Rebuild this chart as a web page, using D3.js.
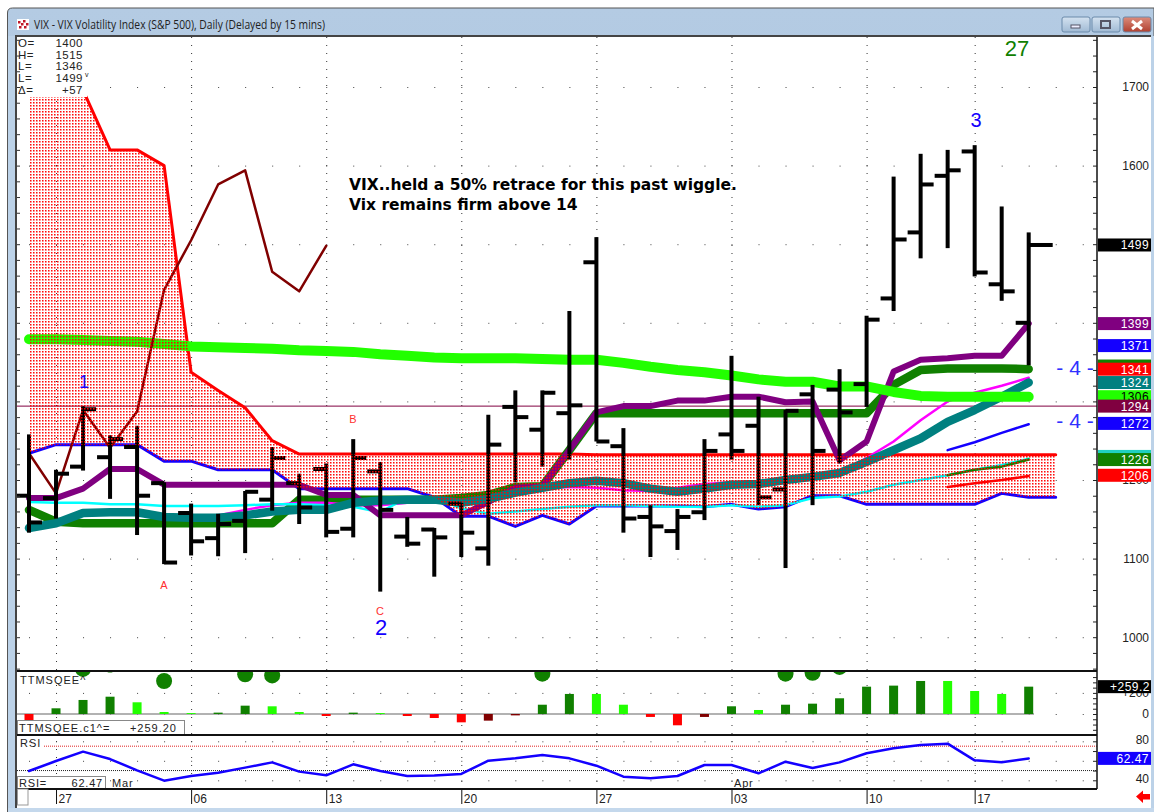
<!DOCTYPE html>
<html><head><meta charset="utf-8">
<script src="https://cdn.jsdelivr.net/npm/d3@7"></script>
<style>html,body{margin:0;padding:0;background:#fff;overflow:hidden}svg{display:block}text{font-family:"Liberation Sans",Arial,sans-serif}</style>
</head><body><svg id="c" width="1154" height="812"></svg>
<script>
const opens=[1180,1177,1217,1229,1242,1196,1158,1126,1148,1175,1196,1214,1138,1211,1128,1137,1170,1113,1293,1264,1285,1477,1243,1153,1135,1159,1258,1269,1188,1309,1315,1322,1431,1515,1587,1618,1449,1400];
const highs=[1258,1213,1294,1257,1269,1197,1170,1157,1186,1242,1208,1221,1252,1223,1153,1139,1171,1283,1314,1314,1415,1509,1266,1168,1163,1252,1358,1306,1289,1321,1341,1409,1586,1615,1620,1626,1548,1515];
const lows=[1133,1151,1212,1176,1130,1093,1104,1103,1107,1161,1144,1127,1127,1058,1115,1077,1102,1091,1197,1217,1226,1249,1133,1102,1111,1149,1226,1168,1088,1168,1221,1293,1415,1482,1495,1459,1428,1346];
const closes=[1146,1208,1290,1252,1180,1095,1122,1144,1185,1228,1165,1134,1228,1162,1119,1127,1133,1245,1280,1311,1295,1249,1151,1141,1153,1237,1237,1178,1288,1237,1286,1404,1506,1576,1594,1464,1440,1499];
const cloudTop=[1696,1696,1696,1620,1620,1600,1337,1314,1292,1250,1233,1233,1233,1233,1233,1233,1233,1233,1233,1233,1233,1232,1232,1232,1232,1232,1232,1232,1232,1232,1232,1232,1232,1232,1232,1232,1232,1232,1232];
const cloudBottom=[1234,1245,1245,1245,1245,1224,1224,1213,1213,1213,1189,1189,1189,1189,1189,1178,1154,1154,1141,1155,1144,1167,1167,1167,1167,1166,1169,1163,1166,1180,1180,1169,1169,1169,1169,1169,1183,1178,1178];
const purpleLine=[1177,1177,1189,1214,1214,1194,1194,1194,1194,1194,1194,1181,1181,1155,1155,1155,1155,1172,1190,1192,1238,1286,1294,1294,1301,1301,1306,1306,1299,1300,1225,1249,1338,1353,1355,1358,1358,1399];
const greenLine=[1162,1147,1145,1145,1145,1145,1145,1145,1145,1145,1175,1175,1175,1175,1175,1175,1177,1181,1191,1192,1238,1285,1285,1285,1285,1285,1285,1285,1285,1285,1285,1285,1321,1340,1342,1342,1342,1341];
const tealLine=[1139,1145,1158,1159,1159,1153,1152,1152,1155,1160,1162,1162,1171,1174,1175,1175,1171,1176,1184,1190,1196,1199,1196,1189,1185,1189,1194,1195,1200,1204,1209,1223,1238,1253,1274,1289,1306,1324];
const limeLine=[1379,1379,1378,1377,1376,1373,1370,1369,1368,1367,1365,1364,1363,1360,1358,1356,1355,1355,1355,1354,1353,1353,1349,1344,1340,1337,1333,1328,1325,1325,1319,1319,1312,1307,1306,1306,1306,1306];
const cyanLine=[1172,1171,1171,1169,1169,1167,1167,1167,1168,1169,1169,1168,1166,1159,1178,1178,1164,1157,1160,1163,1166,1168,1168,1167,1166,1166,1168,1166,1168,1177,1179,1185,1194,1200,1206,1213,1219,1227];
const magentaLine=[null,null,null,null,null,null,1153,1155,1162,1168,1171,1171,1168,1168,1171,1173,1168,1177,1187,1190,1191,1190,1187,1186,1190,1195,1197,1198,1197,1203,1210,1228,1249,1276,1300,1311,1320,1330];
const lagLine=[1234,1183,1289,1241,1287,1442,1505,1576,1594,1465,1440,1498];
const shortIdx=[34,35,36,37];
const shortBlue=[1238,1248,1260,1271];
const shortGreen=[1206,1213,1217,1226];
const shortRed=[1191,1196,1200,1205];
const priceTicks=[1000,1100,1200,1300,1400,1500,1600,1700];
const badgeValues=[1499,1399,1371,1345,1341,1324,1306,1294,1272,1230,1226,1206];
const badgeLabels=["1499","1399","1371","","1341","1324","1306","1294","1272","","1226","1206"];
const badgeColors=["#000000","#800080","#1400ff","#108000","#ff0000","#008080","#22ff00","#800040","#1400ff","#20d0c0","#108000","#ff0000"];
const ttmValues=[-57,54,133,164,111,19,9,13,79,73,19,-19,13,9,-19,-38,-79,-63,-13,88,190,190,88,-28,-107,-28,73,38,88,98,149,259,269,313,313,218,190,259.2];
const ttmColors=["r","d","d","d","b","b","b","d","d","b","b","r","d","b","r","r","r","m","m","d","d","b","b","r","r","m","d","b","d","d","d","d","d","d","b","b","b","d"];
const squeezeIdx=[2,3,5,8,9,19,28,29,30];
const squeezeVals=[427,469,313,376,366,382,382,391,446];
const rsiValues=[49.5,59.8,69.4,61.8,50.2,39.6,44.4,47.8,53,58.4,48.9,45.1,56.4,49.5,44.4,44.8,46.5,60.1,62.5,65.9,62.5,55,43.7,42,44.4,55.7,55.7,47.2,59.1,52.6,58.4,67.7,72.8,76.2,77.6,60.5,58.4,62.47];
const dateIdx=[1,6,11,16,21,26,31,35];
const dateLabels=["27","06","13","20","27","03","10","17"];
const readout=[["O=","1400"],["H=","1515"],["L=","1346"],["L=","1499"],["Δ=","+57"]];

const svg=d3.select("#c");
const x=d3.scaleLinear().domain([0,37]).range([29,1028.7]);
const y=d3.scaleLinear().domain([1000,1700]).range([637.2,87]);
const yT=d3.scaleLinear().domain([0,200]).range([714,692.9]);
const yR=d3.scaleLinear().domain([40,80]).range([780.3,741.3]);
const idx=d3.range(0,40);
const L=17,R=1097;

// window chrome
const defs=svg.append("defs");
const g1=defs.append("linearGradient").attr("id","tb").attr("x1",0).attr("x2",0).attr("y1",0).attr("y2",1);
g1.append("stop").attr("offset",0).attr("stop-color","#b4cbe3");g1.append("stop").attr("offset",1).attr("stop-color","#9fbad6");
const gc=defs.append("linearGradient").attr("id","cl").attr("x1",0).attr("x2",0).attr("y1",0).attr("y2",1);
gc.append("stop").attr("offset",0).attr("stop-color","#dc8c7c");gc.append("stop").attr("offset",1).attr("stop-color","#b04030");
const gb=defs.append("linearGradient").attr("id","bt").attr("x1",0).attr("x2",0).attr("y1",0).attr("y2",1);
gb.append("stop").attr("offset",0).attr("stop-color","#d4e2f0");gb.append("stop").attr("offset",1).attr("stop-color","#a0bad4");
const pat=defs.append("pattern").attr("id","hatch").attr("patternUnits","userSpaceOnUse").attr("width",3).attr("height",3);
pat.append("rect").attr("width",1).attr("height",1).attr("fill","#ff0000").attr("fill-opacity",.95);
pat.append("rect").attr("x",1).attr("width",1).attr("height",1).attr("fill","#ff0000").attr("fill-opacity",.5);
pat.append("rect").attr("y",1).attr("width",1).attr("height",1).attr("fill","#ff0000").attr("fill-opacity",.5);
pat.append("rect").attr("x",1).attr("y",1).attr("width",1).attr("height",1).attr("fill","#ff0000").attr("fill-opacity",.3);
[["m",17,37,R-17,634],["t",17,672,R-17,63],["s",17,736,R-17,53]].forEach(c=>defs.append("clipPath").attr("id","clip"+c[0]).append("rect").attr("x",c[1]).attr("y",c[2]).attr("width",c[3]).attr("height",c[4]));

svg.append("path").attr("d","M7.5,812V13q0,-5 5,-5H1154V812Z").attr("fill","url(#tb)").attr("stroke","#555").attr("stroke-width",1);
svg.append("rect").attr("x",8).attr("y",36).attr("width",1146).attr("height",776).attr("fill","#bcd2e8");
svg.append("rect").attr("x",15).attr("y",35).attr("width",1136).attr("height",773).attr("fill","#fff");
svg.append("rect").attr("x",15).attr("y",35).attr("width",1136).attr("height",2).attr("fill","#444");
svg.append("rect").attr("x",15).attr("y",36).attr("width",2).attr("height",772).attr("fill","#444");
svg.append("rect").attr("x",8).attr("y",808).attr("width",1146).attr("height",4).attr("fill","#c4d8ec");
svg.append("rect").attr("x",17).attr("y",19).attr("width",12).attr("height",11).attr("fill","#fff");
[[18,21],[23,20],[26,23],[19,26],[24,26],[21,23]].forEach(d=>svg.append("rect").attr("x",d[0]).attr("y",d[1]).attr("width",2.5).attr("height",2.5).attr("fill","#c01828"));
svg.append("text").attr("x",34).attr("y",29).attr("font-size",12).attr("fill","#222").style("font-family","'Open Sans'").attr("textLength",291).attr("lengthAdjust","spacingAndGlyphs").text("VIX - VIX Volatility Index (S&P 500), Daily (Delayed by 15 mins)");
[[1062,"url(#bt)"],[1092,"url(#bt)"],[1123,"url(#cl)"]].forEach(b=>svg.append("rect").attr("x",b[0]).attr("y",17).attr("width",28).attr("height",15).attr("rx",2).attr("fill",b[1]).attr("stroke","#6a8aaa"));
svg.append("rect").attr("x",1071).attr("y",25).attr("width",9).attr("height",3).attr("fill","#eef").attr("stroke","#556");
svg.append("rect").attr("x",1101).attr("y",21).attr("width",9).attr("height",7).attr("fill","none").attr("stroke","#556").attr("stroke-width",2);
svg.append("path").attr("d","M1132,21L1142,29M1142,21L1132,29").attr("stroke","#fff").attr("stroke-width",3);

// grid
const grid=svg.append("g");
grid.selectAll("line.v").data(dateIdx).join("line").attr("x1",d=>x(d)+.5).attr("x2",d=>x(d)+.5).attr("y1",37).attr("y2",789).attr("stroke","#333").attr("stroke-dasharray","1,7");
function dots(vals,sc){vals.forEach(v=>grid.selectAll(null).data(idx).join("rect").attr("x",d=>x(d)).attr("y",sc(v)).attr("width",1).attr("height",1).attr("fill","#444"));}
dots(priceTicks,y);dots([0,200],yT);dots([40,60,80],yR);

// main panel
const main=svg.append("g").attr("clip-path","url(#clipm)");
const line=v=>d3.line().defined(d=>d!=null).x((d,i)=>x(i)).y(d=>y(d))(v);
const shortL=v=>d3.line().x((d,i)=>x(shortIdx[i])).y(d=>y(d))(v);
function plot(v,c,w,f){main.append("path").attr("d",(f||line)(v)).attr("fill","none").attr("stroke",c).attr("stroke-width",w).attr("stroke-linejoin","round").attr("stroke-linecap","round");}
main.append("line").attr("x1",L).attr("x2",R).attr("y1",y(1294)).attr("y2",y(1294)).attr("stroke","#800040").attr("stroke-width",1);
plot(cloudTop,"#ff0000",3);plot(cloudBottom,"#1400ff",3);
plot(greenLine,"#108000",8.5);plot(magentaLine,"#ff00ff",2.5);plot(cyanLine,"#00ffff",2.5);
plot(purpleLine,"#800080",6);plot(tealLine,"#008080",8.5);plot(limeLine,"#22ff00",10);
plot(shortBlue,"#1400ff",2.5,shortL);plot(shortGreen,"#108000",2.5,shortL);plot(shortRed,"#ff0000",2.5,shortL);
plot(lagLine,"#800000",2.5);
const bars=main.append("g").attr("fill","#000");
opens.forEach((o,i)=>{
  bars.append("rect").attr("x",x(i)-2).attr("y",y(highs[i])).attr("width",4).attr("height",y(lows[i])-y(highs[i]));
  bars.append("rect").attr("x",x(i)-13).attr("y",y(o)-2).attr("width",13).attr("height",4);
  bars.append("rect").attr("x",x(i)).attr("y",y(closes[i])-2).attr("width",i===37?24:13).attr("height",4);
});
main.append("path").attr("d",d3.area().x((d,i)=>x(i)).y0((d,i)=>y(cloudBottom[i])).y1(d=>y(d))(cloudTop)).attr("fill","url(#hatch)");

// readout
svg.append("rect").attr("x",17).attr("y",37).attr("width",70).attr("height",60).attr("fill","#fff");
readout.forEach((r,i)=>{
  const yy=47+i*11.7;
  svg.append("text").attr("x",18).attr("y",yy).attr("font-size",11.5).attr("fill","#222").attr("letter-spacing",.5).text(r[0]);
  svg.append("text").attr("x",83).attr("y",yy).attr("font-size",11.5).attr("fill","#222").attr("text-anchor","end").attr("letter-spacing",.5).text(r[1]);
});
svg.append("text").attr("x",85).attr("y",77).attr("font-size",7).attr("fill","#222").text("v");

// annotations
const ann=(t,px,py,fs,c)=>svg.append("text").attr("x",px).attr("y",py).attr("font-size",fs).attr("fill",c).attr("text-anchor","middle").text(t);
ann("1",84,388,18,"#1400ff");ann("2",381,635,22,"#1400ff");ann("3",976,127,20,"#1400ff");ann("27",1017,56,22,"#108000");
ann("A",164,589,11,"#ff3030");ann("B",353,423,11,"#ff3030");ann("C",380,615,11,"#ff3030");
ann("- 4 -",1075,375,21,"#3030ff");ann("- 4 -",1075,428,21,"#3030ff");
[["VIX..held a 50% retrace for this past wiggle.",190],["Vix remains firm above 14",210]].forEach(t=>svg.append("text").attr("x",349).attr("y",t[1]).attr("font-size",15.5).attr("font-weight","bold").attr("fill","#000").style("font-family","'DejaVu Sans'").text(t[0]));

// TTM panel
const ttm=svg.append("g").attr("clip-path","url(#clipt)");
const tc={r:"#ff0000",d:"#108000",b:"#22ff00",m:"#800000"};
ttm.append("line").attr("x1",L).attr("x2",1034).attr("y1",yT(0)).attr("y2",yT(0)).attr("stroke","#999").attr("stroke-width",1.5);
ttm.selectAll("rect").data(ttmValues).join("rect").attr("x",(d,i)=>x(i)-4.5).attr("width",9).attr("y",d=>Math.min(yT(d),yT(0))).attr("height",d=>Math.abs(yT(d)-yT(0))).attr("fill",(d,i)=>tc[ttmColors[i]]);
ttm.selectAll("circle").data(squeezeVals).join("circle").attr("cx",(d,i)=>x(squeezeIdx[i])).attr("cy",d=>yT(d)).attr("r",8).attr("fill","#108000");
svg.append("text").attr("x",20).attr("y",684).attr("font-size",11).attr("fill","#222").attr("letter-spacing",1).text("TTMSQEE^");
svg.append("rect").attr("x",17.5).attr("y",720.5).attr("width",167).attr("height",14).attr("fill","#fff").attr("stroke","#888");
svg.append("text").attr("x",19).attr("y",732).attr("font-size",11).attr("fill","#222").attr("letter-spacing",1).text("TTMSQEE.c1^=");
svg.append("text").attr("x",177).attr("y",732).attr("font-size",11).attr("fill","#222").attr("letter-spacing",1).attr("text-anchor","end").text("+259.20");

// RSI panel
svg.append("line").attr("x1",44).attr("x2",R).attr("y1",yR(75)).attr("y2",yR(75)).attr("stroke","#e02020").attr("stroke-dasharray","1,1");
svg.append("line").attr("x1",L).attr("x2",R).attr("y1",yR(50)).attr("y2",yR(50)).attr("stroke","#222").attr("stroke-dasharray","1,1");
svg.append("path").attr("d",d3.line().x((d,i)=>x(i)).y(d=>yR(d))(rsiValues)).attr("fill","none").attr("stroke","#1400ff").attr("stroke-width",2.5).attr("stroke-linejoin","round").attr("stroke-linecap","round").attr("clip-path","url(#clips)");
svg.append("text").attr("x",20).attr("y",747).attr("font-size",11).attr("fill","#222").attr("letter-spacing",1).text("RSI");
svg.append("rect").attr("x",17.5).attr("y",776.5).attr("width",88).attr("height",12).attr("fill","#fff").attr("stroke","#888");
svg.append("text").attr("x",19).attr("y",787).attr("font-size",11).attr("fill","#222").attr("letter-spacing",.8).text("RSI=");
svg.append("text").attr("x",103).attr("y",787).attr("font-size",11).attr("fill","#222").attr("letter-spacing",.8).attr("text-anchor","end").text("62.47");
svg.append("text").attr("x",112).attr("y",787).attr("font-size",11).attr("fill","#222").attr("letter-spacing",.8).text("Mar");
svg.append("text").attr("x",734).attr("y",787).attr("font-size",11).attr("fill","#222").attr("letter-spacing",.8).text("Apr");

// dividers and axes
[671,735,789].forEach(v=>svg.append("line").attr("x1",L).attr("x2",R).attr("y1",v).attr("y2",v).attr("stroke","#111").attr("stroke-width",2));
function axisStyle(g){g.select(".domain").attr("stroke","#111").attr("stroke-width",1.5);g.selectAll(".tick line").attr("stroke","#222");g.selectAll("text").attr("text-anchor","end").attr("x",52).attr("font-size",12).attr("fill","#222").style("font-family","'Liberation Sans'");}
const minor=d3.range(960,1780,20);
const hide=new Set([1500,1400,1300]);
const axisM=d3.axisRight(y).tickValues(minor).tickSize(-4).tickFormat(v=>(v%100===0&&!hide.has(v))?String(v):"");
const gM=svg.append("g").attr("transform",`translate(${R},0)`).call(axisM).call(axisStyle);
gM.select(".domain").attr("d","M0,37V671");
const axisML=d3.axisRight(y).tickValues(minor).tickSize(3).tickFormat("");
const gML=svg.append("g").attr("transform",`translate(${L},0)`).call(axisML);
gML.select(".domain").remove();gML.selectAll(".tick line").attr("stroke","#333");
const gT=svg.append("g").attr("transform",`translate(${R},0)`).call(d3.axisRight(yT).tickValues(d3.range(-150,400,50)).tickSize(-4).tickFormat(v=>v===0?"0":v===200?"+200":"")).call(axisStyle);
gT.select(".domain").attr("d","M0,671V735");
const gR=svg.append("g").attr("transform",`translate(${R},0)`).call(d3.axisRight(yR).tickValues([40,50,60,70,80]).tickSize(-4).tickFormat(v=>(v===40||v===80)?String(v):"")).call(axisStyle);
gR.select(".domain").attr("d","M0,735V789");
gR.selectAll(".tick").filter(d=>d===80||d===40).select("text").attr("dy","0.2em");
const axisD=d3.axisBottom(x).tickValues(dateIdx).tickSize(15).tickFormat((d,i)=>dateLabels[i]);
const gD=svg.append("g").attr("transform","translate(0,789)").call(axisD);
gD.select(".domain").remove();gD.selectAll(".tick line").attr("stroke","#111").attr("stroke-width",1);
gD.selectAll("text").attr("text-anchor","start").attr("x",2).attr("y",5).attr("font-size",12).attr("fill","#222").style("font-family","'Liberation Sans'");
svg.append("rect").attr("x",17.5).attr("y",789).attr("width",10.5).attr("height",16).attr("fill","#fff").attr("stroke","#999");

// value badges
const bg=svg.append("g");
badgeValues.forEach((v,i)=>{
  const c=y(v);
  bg.append("rect").attr("x",1098).attr("y",c-6.5).attr("width",53).attr("height",13).attr("fill",badgeColors[i]);
  if(badgeLabels[i]) bg.append("text").attr("x",1149).attr("y",c+4.5).attr("font-size",12).attr("text-anchor","end").attr("letter-spacing",.4).attr("fill",v===1306?"#000":"#fff").text(badgeLabels[i]);
});
const ty=yT(259.2),ry=yR(62.47);
bg.append("rect").attr("x",1098).attr("y",ty-6.5).attr("width",53).attr("height",13).attr("fill","#000");
bg.append("text").attr("x",1150).attr("y",ty+4.5).attr("font-size",12).attr("text-anchor","end").attr("letter-spacing",.5).attr("fill","#fff").text("+259.2");
bg.append("rect").attr("x",1098).attr("y",ry-6.5).attr("width",53).attr("height",13).attr("fill","#1400ff");
bg.append("text").attr("x",1149).attr("y",ry+4.5).attr("font-size",12).attr("text-anchor","end").attr("letter-spacing",.5).attr("fill","#fff").text("62.47");
svg.append("path").attr("d","M1136,796.5l7,-6v3.5h7v5.5h-7v3.5Z").attr("fill","#ff0000");
</script></body></html>
